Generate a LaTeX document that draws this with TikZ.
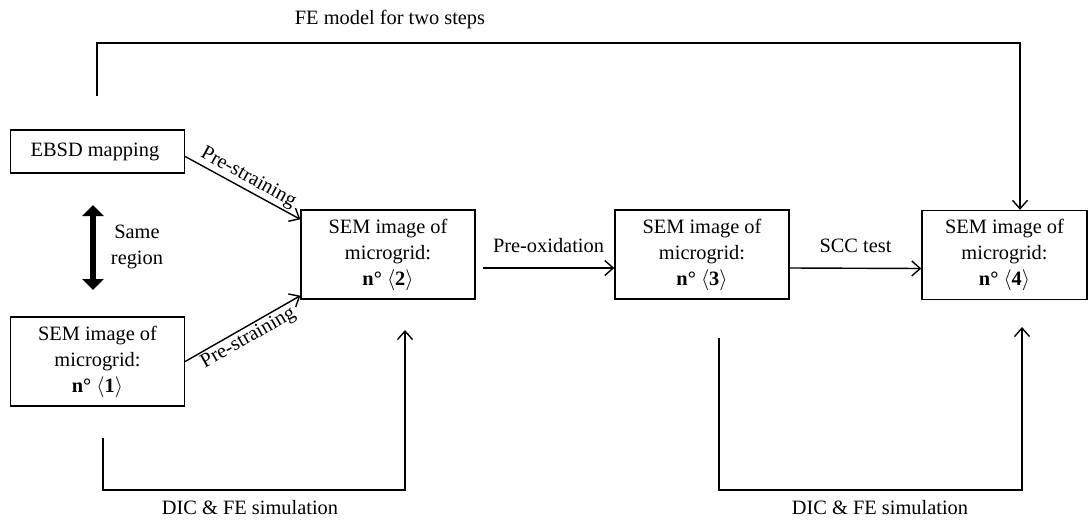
\documentclass[tikz,border=0pt]{standalone}
\usepackage{fontspec}
\setmainfont{Liberation Serif}
\usepackage{tikz}
\usetikzlibrary{arrows.meta}
\tikzset{
  box/.style={draw, line width=0.8pt, align=center, inner sep=2pt,
    minimum width=3.48cm, minimum height=1.78cm},
  flow/.style={line width=0.8pt, -{Straight Barb[length=0.17cm,width=0.3cm]}},
  plain/.style={line width=0.8pt},
  twoway/.style={line width=3.2pt,
    {Triangle[width=0.42cm,length=0.22cm]}-{Triangle[width=0.42cm,length=0.22cm]}}
}
\newcommand{\semimg}[1]{SEM image of\\ microgrid:\\ \textbf{n°}~$\langle\mathbf{#1}\rangle$}

\begin{document}
\begin{tikzpicture}[x=0.02cm, y=-0.02cm, font=\fontsize{11.6}{14.8}\selectfont]
\useasboundingbox (0,0) rectangle (1088,521);
%%% samples and images %%%

      \node[box, minimum height=0.86cm] (ebsd) at (97.5,151.5) { EBSD mapping };
      \node[box] (sem1) at (97.5,361.5) { \semimg{1} };
      \node[box] (sem2) at (388,254.5) { \semimg{2} };
      \node[box] (sem3) at (702,254.5) { \semimg{3} };
      \node[box, minimum width=3.3cm] (sem4) at (1004.5,255) { \semimg{4} };
      %%
      \draw[twoway] (93,205) -- (93,290);
      \node[align=center] (same) at (137,247) { Same\\ region };
      %%
      \draw[flow] ([yshift=-0.1cm]ebsd.east) -- ([yshift=-0.2cm]sem2.north west)
        node[midway, sloped, above, inner sep=1pt] { Pre-straining };
      \draw[flow] (sem1.east) -- ([yshift=0.08cm]sem2.south west)
        node[midway, sloped, below, inner sep=1pt] { Pre-straining };
      \draw[flow] ([xshift=0.14cm, yshift=-0.27cm]sem2.east) -- ([yshift=-0.27cm]sem3.west)
        node[midway, above=5pt] { Pre-oxidation };
      \draw[flow] ([yshift=-0.27cm]sem3.east) -- ([yshift=-0.27cm]sem4.west)
        node[midway, above=5pt] { SCC test };
      %%
%%% simulations %%%
      \coordinate (feL) at (97,96);
      \coordinate (feR) at (1020,43);
      \draw[flow] (feL) |- (feR) -- (feR |- sem4.north);
      \node (femodel) at (390,19) { FE model for two steps };
      %%
      \coordinate (dicA) at (103,438);
      \coordinate (dicB) at (405,330);
      \draw[flow] (dicA) -- ++(0,52) -| (dicB);
      \node (dic1) at (250,508) { DIC \& FE simulation };
      %%
      \coordinate (dicC) at (719,338);
      \coordinate (dicD) at (1022,327);
      \draw[flow] (dicC) -- ++(0,152) -| (dicD);
      \node (dic2) at (880,508) { DIC \& FE simulation };

\end{tikzpicture}
\end{document}
